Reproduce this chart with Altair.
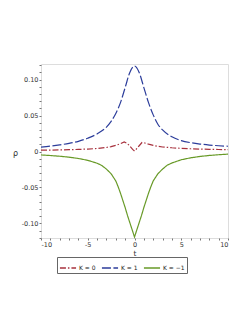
import altair as alt
import pandas as pd

# K = 1 (blue, long dash)
t_k1 = [-10, -9, -8, -7, -6, -5, -4, -3, -2.5, -2, -1.5, -1, -0.5, 0,
        0.5, 1, 1.5, 2, 2.5, 3, 4, 5, 6, 7, 8, 9, 10]
rho_k1 = [0.0062, 0.0075, 0.0092, 0.0113, 0.0142, 0.0185, 0.0245, 0.034, 0.042, 0.053, 0.068, 0.089, 0.110, 0.119,
          0.110, 0.089, 0.068, 0.051, 0.038, 0.030, 0.0205, 0.0152, 0.0123, 0.0104, 0.009, 0.008, 0.0073]

# K = 0 (red, dash-dot)
t_k0 = [-10, -9, -8, -7, -6, -5, -4, -3, -2.5, -2, -1.5, -1.1, -0.8, -0.5, -0.2, 0,
        0.2, 0.5, 0.8, 1.1, 1.5, 2, 2.5, 3, 4, 5, 6, 7, 8, 9, 10]
rho_k0 = [0.0018, 0.002, 0.0022, 0.0025, 0.0029, 0.0034, 0.0042, 0.0056, 0.0068, 0.0085, 0.0108, 0.0132, 0.0115, 0.0075, 0.003, 0.0008,
          0.0035, 0.008, 0.0125, 0.0118, 0.0102, 0.0085, 0.0072, 0.0063, 0.0052, 0.0044, 0.0038, 0.0034, 0.0031, 0.0028, 0.0026]

# K = -1 (green, solid)
t_km1 = [-10, -9, -8, -7, -6, -5, -4, -3.5, -3, -2.5, -2, -1.75, -1.5, -1.25, -1, -0.75, -0.5, -0.25, 0,
         0.25, 0.5, 0.75, 1, 1.25, 1.5, 1.75, 2, 2.5, 3, 3.5, 4, 5, 6, 7, 8, 9, 10]
rho_km1 = [-0.0048, -0.0056, -0.0066, -0.0079, -0.0097, -0.0123, -0.0163, -0.0195, -0.0245, -0.031, -0.041, -0.049, -0.058, -0.068, -0.078, -0.089, -0.099, -0.109, -0.119,
           -0.109, -0.099, -0.089, -0.078, -0.068, -0.058, -0.049, -0.041, -0.031, -0.0245, -0.019, -0.016, -0.0115, -0.0088, -0.0069, -0.0055, -0.0045, -0.0037]

series_labels = ["K = 0", "K = 1", "K = \u22121"]
series_colors = ["#a8323e", "#2c3d9b", "#689a28"]
series_dashes = [[6, 2, 1.5, 2], [9, 2.5], [1, 0]]

x_ticks = list(range(-10, 11))
y_ticks = [-0.12, -0.11, -0.10, -0.09, -0.08, -0.07, -0.06, -0.05, -0.04, -0.03, -0.02, -0.01, 0.0,
           0.01, 0.02, 0.03, 0.04, 0.05, 0.06, 0.07, 0.08, 0.09, 0.10, 0.11, 0.12]

df = pd.concat([
    pd.DataFrame({"t": t_k0, "rho": rho_k0, "K": series_labels[0]}),
    pd.DataFrame({"t": t_k1, "rho": rho_k1, "K": series_labels[1]}),
    pd.DataFrame({"t": t_km1, "rho": rho_km1, "K": series_labels[2]}),
])

FONT = "DejaVu Sans"

x_enc = alt.X("t:Q", scale=alt.Scale(domain=[-10, 10], nice=False, zero=False),
              axis=alt.Axis(values=x_ticks, title="t", grid=False, domain=False,
                            labelExpr="datum.value % 5 == 0 ? replace(format(datum.value, 'd'), '\u2212', '-') : ''",
                            labelOverlap=False, tickSize=2, tickColor="#777", labelPadding=1,
                            labelFontSize=6.5, labelColor="#333", labelFont=FONT,
                            titleFontSize=7.5, titleFont=FONT, titleFontWeight="normal",
                            titleColor="#333", titlePadding=2))
y_enc = alt.Y("rho:Q", scale=alt.Scale(domain=[-0.1204, 0.1218], nice=False, zero=False),
              axis=alt.Axis(values=y_ticks, title="\u03c1", grid=False, domain=False,
                            labelExpr="abs(round(datum.value*100)) % 5 == 0 ? (abs(datum.value) < 1e-9 ? '0' : replace(format(datum.value, '.2f'), '\u2212', '-')) : ''",
                            labelOverlap=False, tickSize=2, tickColor="#777", labelPadding=1,
                            labelFontSize=6.5, labelColor="#333", labelFont=FONT,
                            titleFontSize=8, titleFont=FONT, titleFontWeight="normal", titleColor="#333",
                            titleAngle=0, titleX=-26, titleY=89, titleAlign="center", titleBaseline="middle"))
color_enc = alt.Color("K:N", scale=alt.Scale(domain=series_labels, range=series_colors),
                      legend=alt.Legend(title=None, orient="none", legendX=16, legendY=193,
                                        direction="horizontal", symbolType="stroke",
                                        symbolSize=260, symbolStrokeWidth=1.5,
                                        labelFontSize=6, labelFont=FONT, labelColor="#222",
                                        columnPadding=2, labelOffset=2, padding=2,
                                        strokeColor="#666", fillColor="white"))
dash_enc = alt.StrokeDash("K:N", scale=alt.Scale(domain=series_labels, range=series_dashes), legend=None)

base = alt.Chart(df).encode(x=x_enc, y=y_enc, color=color_enc, strokeDash=dash_enc, order="t:Q")

red = base.transform_filter(alt.datum.K == series_labels[0]).mark_line(strokeWidth=1.2, interpolate="linear")
blue = base.transform_filter(alt.datum.K == series_labels[1]).mark_line(strokeWidth=1.2, interpolate="monotone")
green = base.transform_filter(alt.datum.K == series_labels[2]).mark_line(strokeWidth=1.2, interpolate="linear")

chart = alt.layer(red, blue, green).properties(
    width=187, height=174,
    autosize=alt.AutoSizeParams(type="none"),
    padding={"left": 33, "top": 56, "right": 13, "bottom": 50},
).configure_view(stroke="#333", strokeWidth=1).configure(background="white")

chart.save("out.html", embed_options={"renderer": "svg", "actions": False})
